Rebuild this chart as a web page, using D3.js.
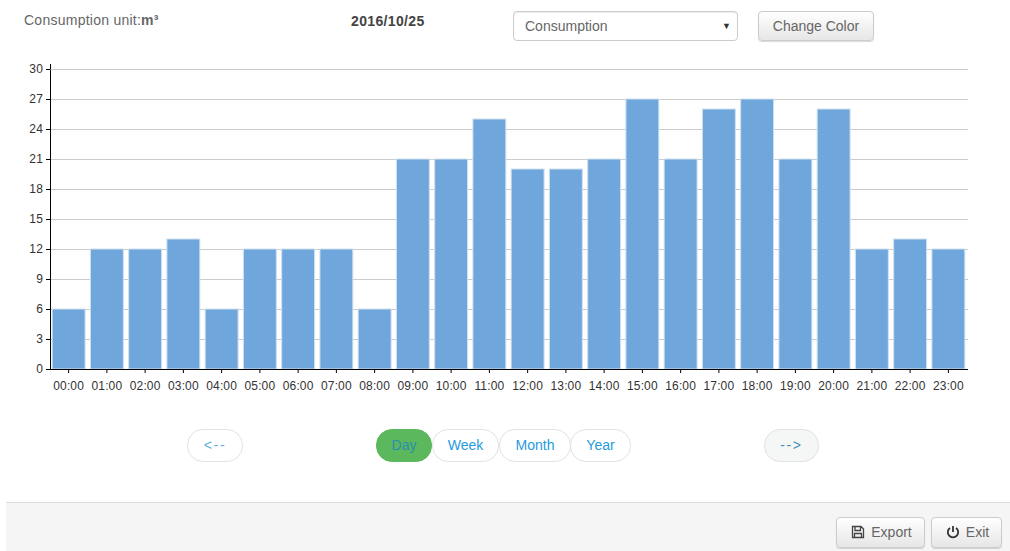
<!DOCTYPE html>
<html>
<head>
<meta charset="utf-8">
<script src="https://cdn.jsdelivr.net/npm/d3@7"></script>
<style>
    html, body { margin: 0; padding: 0; background: #fff; overflow: hidden; }
    body { width: 1010px; height: 551px; position: relative; font-family: "Liberation Sans", Arial, sans-serif; color: #666; }
    #svg_chart { position: absolute; left: 0; top: 0; }
    .label { position: absolute; font-size: 14px; line-height: 20px; white-space: nowrap; letter-spacing: .25px; }
    .select { position: absolute; left: 513px; top: 11px; width: 223px; height: 28px; border: 1px solid #ccc; border-radius: 4px; font-size: 14px; line-height: 28px; text-indent: 11px; box-shadow: inset 0 1px 1px rgba(0,0,0,.075); }
    .select span { position: absolute; right: 6px; top: 0; font-size: 9px; color: #333; text-indent: 0; }
    .btn { position: absolute; box-sizing: border-box; border: 1px solid #ccc; border-radius: 4px; font-size: 14px; color: #666; text-align: center; background: linear-gradient(#fff, #e6e6e6); box-shadow: 0 1px 1px rgba(0,0,0,.15); }
    .pill { position: absolute; box-sizing: border-box; top: 429px; height: 33px; border: 1px solid #e2e2e2; border-radius: 16px; font-size: 14px; line-height: 31px; text-align: center; color: #1f9bde; background: #fff; }
    .arrow { letter-spacing: 1.6px; color: #5cb0e0; }
    #footer { position: absolute; left: 6px; top: 502px; width: 1004px; height: 49px; background: #f5f5f5; border-top: 1px solid #ddd; box-sizing: border-box; }
</style>
</head>
<body>
<svg id="svg_chart" width="1010" height="551"></svg>
<div class="label" style="left:24px;top:10px">Consumption unit:<b>m³</b></div>
<div class="label" style="left:351px;top:11px;color:#444;letter-spacing:.35px"><b>2016/10/25</b></div>
<div class="select">Consumption<span>▼</span></div>
<div class="btn" style="left:758px;top:11px;width:116px;height:30px;line-height:28px">Change Color</div>
<div class="pill arrow" style="left:187px;width:56px">&lt;--</div>
<div class="pill" style="left:376px;width:56px;background:#5cb85c;border-color:#5cb85c;color:#2a8fb0">Day</div>
<div class="pill" style="left:432px;width:67px">Week</div>
<div class="pill" style="left:499px;width:72px">Month</div>
<div class="pill" style="left:570px;width:61px">Year</div>
<div class="pill arrow" style="left:764px;width:55px;background:#f5f7f7;color:#3f8fb5">--&gt;</div>
<div id="footer"></div>
<div class="btn" style="left:836px;top:517px;width:89px;height:31px;line-height:29px;text-indent:22px">Export
    <svg width="14" height="14" viewBox="0 0 14 14" style="position:absolute;left:14px;top:7px"><path d="M1.5 1.5h8.5l2.5 2.5v8.5h-11z M4 1.5v4h5.5v-4 M3.5 12.5v-4h7v4" fill="none" stroke="#444" stroke-width="1.3"/></svg>
</div>
<div class="btn" style="left:931px;top:517px;width:71px;height:31px;line-height:29px;text-indent:22px">Exit
    <svg width="14" height="14" viewBox="0 0 14 14" style="position:absolute;left:14px;top:7px"><path d="M4 3a5.2 5.2 0 1 0 6 0 M7 1v6" fill="none" stroke="#333" stroke-width="1.8"/></svg>
</div>

<script>
// Hourly consumption for one day
const hours = ["00:00", "01:00", "02:00", "03:00", "04:00", "05:00", "06:00", "07:00",
    "08:00", "09:00", "10:00", "11:00", "12:00", "13:00", "14:00", "15:00",
    "16:00", "17:00", "18:00", "19:00", "20:00", "21:00", "22:00", "23:00"];
const consumption = [6, 12, 12, 13, 6, 12, 12, 12, 6, 21, 21, 25, 20, 20, 21, 27, 21, 26, 27, 21, 26, 12, 13, 12];
const yTicks = [0, 3, 6, 9, 12, 15, 18, 21, 24, 27, 30];

let padding = { top: 69, right: 42, bottom: 182, left: 50 };
let svg = d3.select("#svg_chart");
let width = +svg.attr("width") - padding.right;
let height = +svg.attr("height") - padding.bottom;

let xScale = d3.scaleBand()
    .domain(hours)
    .range([padding.left - 0.5, width - 0.5])
    .paddingInner(0.14)
    .paddingOuter(0.07);

let yScale = d3.scaleLinear()
    .domain([0, 30])
    .range([height, padding.top]);

// grid lines sit behind the bars
svg.append("g").attr("id", "grid")
    .selectAll("line")
    .data(yTicks.filter(d => d > 0))
    .enter()
    .append("line")
        .attr("x1", padding.left)
        .attr("x2", width)
        .attr("y1", d => yScale(d) + 0.5)
        .attr("y2", d => yScale(d) + 0.5)
        .attr("stroke", "#ccc");

svg.append("g").attr("id", "bars")
    .selectAll("rect")
    .data(consumption)
    .enter()
    .append("rect")
        .attr("x", (d, i) => xScale(hours[i]))
        .attr("y", d => yScale(d))
        .attr("width", xScale.bandwidth())
        .attr("height", d => height - yScale(d))
        .attr("fill", "#6fa6db")
        .attr("stroke", "#cfe0f0")
        .attr("stroke-width", 1);

let xAxis = d3.axisBottom(xScale).tickSize(4).tickSizeOuter(0).tickPadding(8);
let yAxis = d3.axisLeft(yScale).tickValues(yTicks).tickSize(4).tickSizeOuter(0).tickPadding(3);

let xg = svg.append("g").attr("id", "x-axis")
    .attr("transform", "translate(0," + height + ")")
    .call(xAxis);
let yg = svg.append("g").attr("id", "y-axis")
    .attr("transform", "translate(" + padding.left + ",0)")
    .call(yAxis);

// the y axis line runs a little past the top tick
yg.append("line")
    .attr("x1", 0.5)
    .attr("x2", 0.5)
    .attr("y1", yScale(30) - 5)
    .attr("y2", yScale(30));

[xg, yg].forEach(g => {
    g.selectAll("text")
        .attr("font-family", "'Liberation Sans', Arial, sans-serif")
        .attr("font-size", 12)
        .attr("letter-spacing", 0.15)
        .attr("fill", "#333");
    g.selectAll("path, line").attr("stroke", "#000");
});
</script>
</body>
</html>
